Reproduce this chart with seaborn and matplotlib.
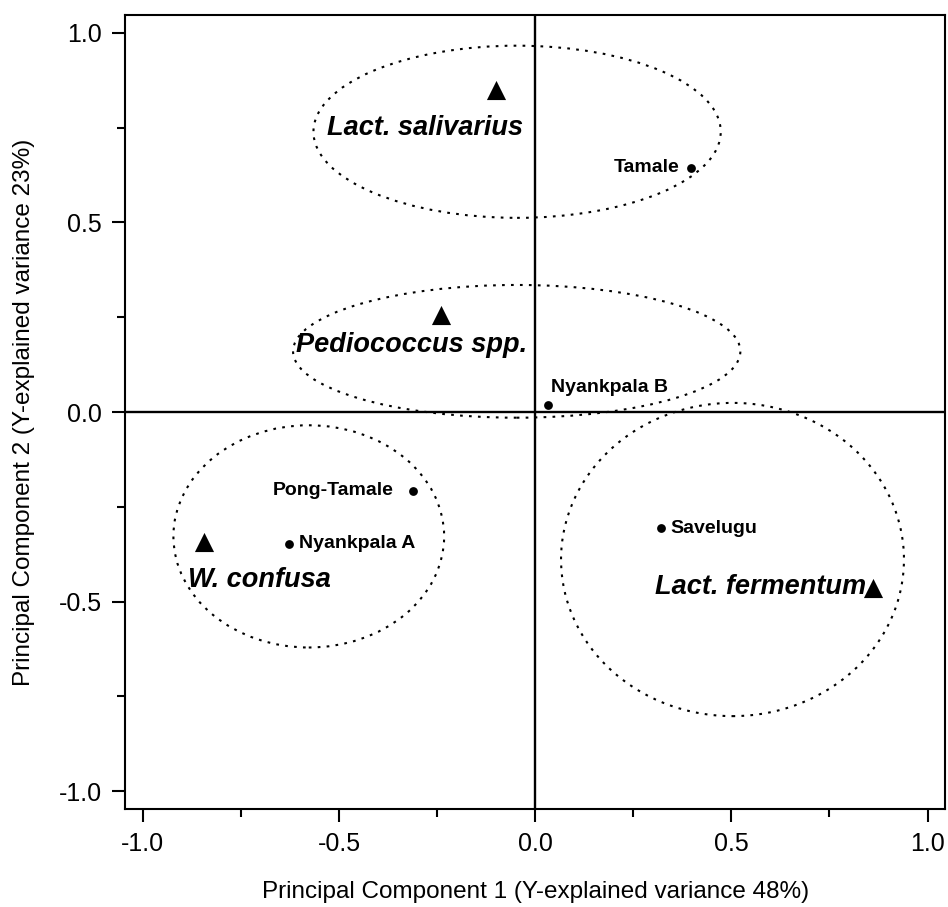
import matplotlib
matplotlib.use("Agg")
import matplotlib.pyplot as plt
from matplotlib.patches import Ellipse
from matplotlib.ticker import MultipleLocator, FormatStrFormatter
import seaborn as sns
import pandas as pd

# Species loadings (triangles)
species = ["Lact. salivarius", "Pediococcus spp.", "W. confusa", "Lact. fermentum"]
species_pc1 = [-0.101, -0.240, -0.843, 0.861]
species_pc2 = [0.850, 0.256, -0.342, -0.465]

# Sampling sites (dots)
sites = ["Tamale", "Nyankpala B", "Pong-Tamale", "Nyankpala A", "Savelugu"]
site_pc1 = [0.397, 0.033, -0.311, -0.627, 0.320]
site_pc2 = [0.644, 0.018, -0.208, -0.348, -0.307]

# Group outlines: centre (pc1, pc2), full width, full height
group_cx = [-0.046, -0.047, -0.577, 0.503]
group_cy = [0.739, 0.160, -0.328, -0.389]
group_w = [1.038, 1.140, 0.690, 0.874]
group_h = [0.454, 0.350, 0.586, 0.826]

# Species label anchors (pc1, pc2) and alignment
species_lbl_x = [-0.280, -0.316, -0.703, 0.843]
species_lbl_y = [0.749, 0.177, -0.443, -0.462]
species_lbl_ha = ["center", "center", "center", "right"]

# Site label offsets in points and alignment
site_off = [(-8, 0), (2, 13), (-14, 0), (7, 0), (7, 0)]
site_ha = ["right", "left", "right", "left", "left"]

sns.set_theme(style="white")
plt.rcParams["font.family"] = ["Liberation Sans", "DejaVu Sans"]
plt.rcParams["text.color"] = "black"
plt.rcParams["axes.labelcolor"] = "black"
plt.rcParams["xtick.color"] = "black"
plt.rcParams["ytick.color"] = "black"

fig = plt.figure(figsize=(9.48, 9.07), dpi=100)
ax = fig.add_axes([0.132, 0.108, 0.865, 0.8755])

df_sp = pd.DataFrame({"pc1": species_pc1, "pc2": species_pc2, "name": species})
df_st = pd.DataFrame({"pc1": site_pc1, "pc2": site_pc2, "name": sites})

ax.axhline(0, color="black", lw=1.7, zorder=1)
ax.axvline(0, color="black", lw=1.7, zorder=1)

for cx, cy, w, h in zip(group_cx, group_cy, group_w, group_h):
    ax.add_patch(Ellipse((cx, cy), w, h, fill=False, edgecolor="black",
                         lw=1.5, linestyle=(0, (1.3, 3.0)), zorder=2))

sns.scatterplot(data=df_sp, x="pc1", y="pc2", marker="^", s=190,
                color="black", edgecolor="black", linewidth=0, ax=ax, zorder=3)
sns.scatterplot(data=df_st, x="pc1", y="pc2", marker="o", s=40,
                color="black", edgecolor="black", linewidth=0, ax=ax, zorder=3)

for name, x, y, ha in zip(species, species_lbl_x, species_lbl_y, species_lbl_ha):
    ax.text(x, y, name, ha=ha, va="center", fontsize=19.5, color="black",
            fontweight="bold", fontstyle="italic", zorder=4)

for name, x, y, off, ha in zip(sites, site_pc1, site_pc2, site_off, site_ha):
    ax.annotate(name, (x, y), xytext=off, textcoords="offset points", color="black",
                ha=ha, va="center", fontsize=14, fontweight="bold", zorder=4)

ax.set_xlim(-1.045, 1.045)
ax.set_ylim(-1.047, 1.047)
ax.xaxis.set_major_locator(MultipleLocator(0.5))
ax.xaxis.set_minor_locator(MultipleLocator(0.25))
ax.yaxis.set_major_locator(MultipleLocator(0.5))
ax.yaxis.set_minor_locator(MultipleLocator(0.25))
ax.xaxis.set_major_formatter(FormatStrFormatter("%.1f"))
ax.yaxis.set_major_formatter(FormatStrFormatter("%.1f"))

ax.tick_params(which="major", direction="out", length=9.5, width=1.5,
               labelsize=18, pad=7, color="black", labelcolor="black",
               bottom=True, left=True, top=False, right=False)
ax.tick_params(which="minor", direction="out", length=5.5, width=1.5,
               color="black", bottom=True, left=True, top=False, right=False)

for sp in ax.spines.values():
    sp.set_visible(True)
    sp.set_color("black")
    sp.set_linewidth(1.5)

ax.set_xlabel("Principal Component 1 (Y-explained variance 48%)", fontsize=17.5,
              labelpad=18, color="black")
ax.set_ylabel("Principal Component 2 (Y-explained variance 23%)", fontsize=17.5,
              labelpad=17, color="black")

fig.savefig("out.png", dpi=100, facecolor="white")
